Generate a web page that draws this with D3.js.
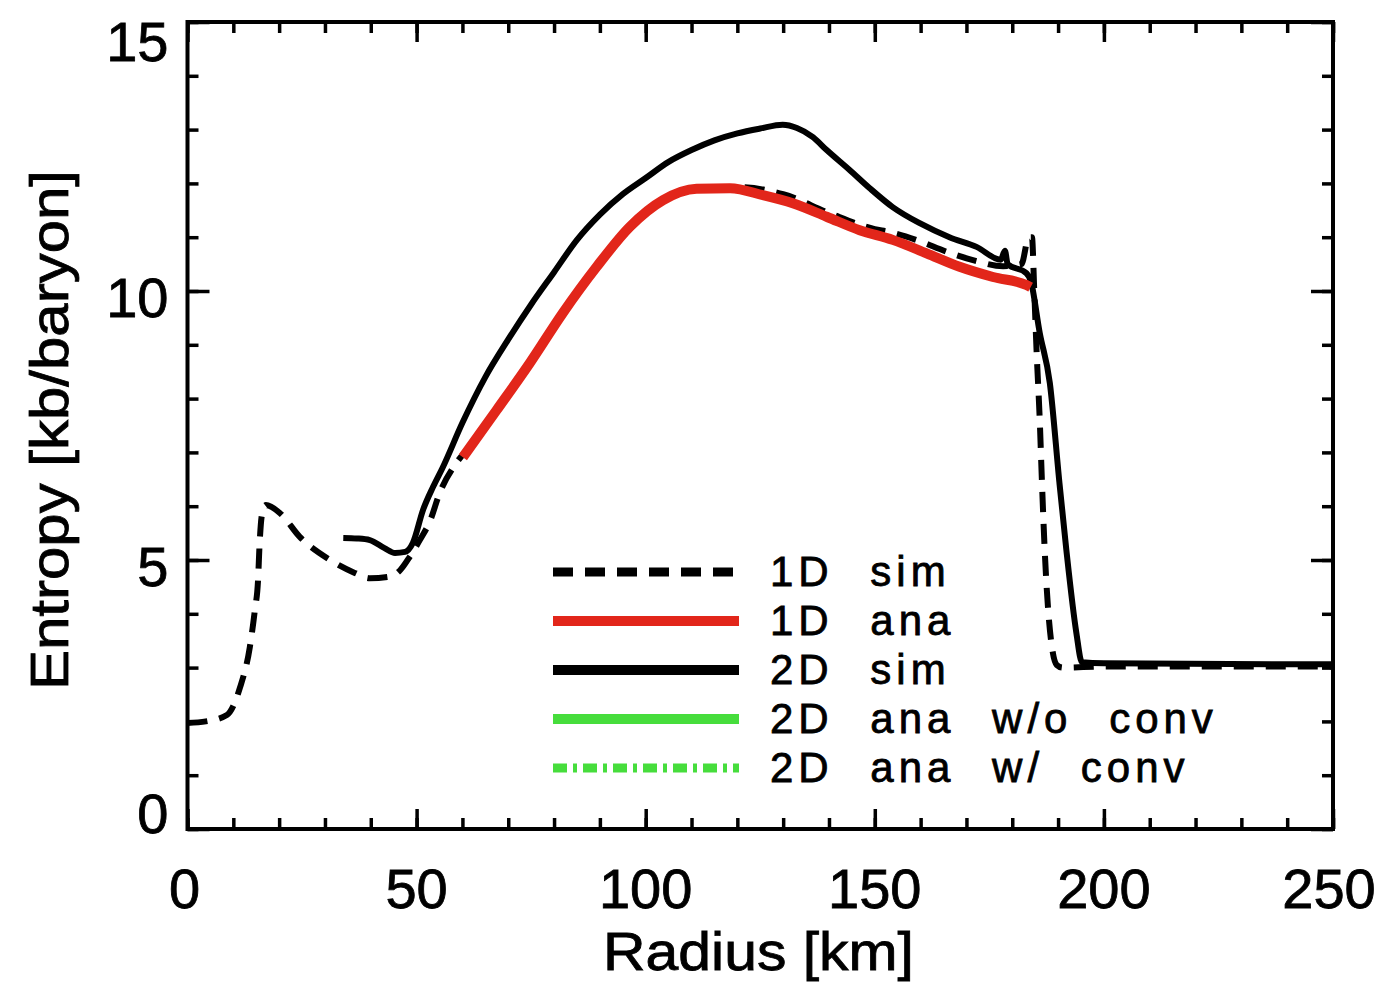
<!DOCTYPE html>
<html>
<head>
<meta charset="utf-8">
<script src="https://cdn.jsdelivr.net/npm/d3@7"></script>
<style>
  body { margin: 0; background: #fff; }
  svg text { font-family: "Liberation Sans", Arial, sans-serif; fill: #000; stroke: #000; stroke-width: 0.8px; }
</style>
</head>
<body>
<svg id="svg1" width="1385" height="985"></svg>
<script>
// ---- data ----
var xTicks = [0, 50, 100, 150, 200, 250];
var yTicks = [0, 5, 10, 15];

// 1D sim (dashed black): [radius km, entropy]
var sim1d = [[0,1.97],[4,2.0],[8.6,2.12],[11.5,2.64],[13.6,3.38],[14.7,4.07],[15.4,4.63],[15.7,5.24],
  [16.3,5.87],[17.1,6.02],[20.2,5.87],[24.5,5.43],[31.1,5.0],[36.5,4.76],[39.8,4.66],[44.2,4.69],
  [46.4,4.81],[48.5,5.06],[50.7,5.37],[53,5.74],[55,6.24],[58.4,6.77],[62,7.15],[70,8.1],[80,9.35],
  [90,10.55],[100,11.45],[110,11.88],[120,11.93],[130,11.8],[140,11.45],[150,11.15],[153,11.1],
  [159,10.95],[166,10.72],[172,10.56],[178,10.46],[182,10.5],[183.6,11.0],[184.3,11.0],[184.8,10.0],
  [185.3,8.9],[186,7.6],[186.5,6.4],[187.1,5.15],[188,3.9],[189.7,3.05],[191,3.0],[200,3.02],[250,3.02]];

// 1D ana (red)
var ana1d = [[60.1,6.91],[67.5,7.79],[74.7,8.66],[81.9,9.59],[89.3,10.45],[96.5,11.19],[103.8,11.69],
  [111.1,11.9],[118.4,11.91],[125.6,11.78],[132.1,11.63],[139.5,11.38],[146.7,11.13],[153.9,10.95],
  [161.3,10.7],[168.5,10.45],[175.8,10.26],[183.1,10.11],[184,10.07]];

// 2D sim (solid black)
var sim2d = [[34,5.41],[37,5.4],[39.8,5.37],[43,5.22],[45.3,5.13],[47.5,5.15],[49.2,5.32],[51.4,5.93],
  [53.6,6.36],[55.7,6.72],[60,7.55],[65,8.4],[70,9.1],[75,9.75],[80,10.35],[85,10.95],[90,11.42],
  [95,11.8],[100,12.1],[105,12.4],[110,12.62],[115,12.8],[120,12.93],[125,13.02],[129.9,13.09],
  [133,13.03],[136.5,12.86],[139.5,12.62],[144.5,12.25],[148.9,11.91],[153.9,11.56],[159.8,11.26],
  [166.3,11.0],[172.2,10.82],[177.5,10.58],[178.4,10.75],[179,10.5],[183.1,10.33],[184,10.2],
  [186,9.22],[188.2,8.29],[190.3,6.43],[191.8,5.19],[194,3.64],[195.2,3.1],[200,3.08],[250,3.06]];

var legendLabels = ["1D sim", "1D ana", "2D sim", "2D ana w/o conv", "2D ana w/ conv"];

// ---- layout ----
var svg = d3.select("#svg1"),
    margin = {top: 22, right: 52, bottom: 156, left: 187.5},
    width = +svg.attr("width") - margin.left - margin.right,
    height = +svg.attr("height") - margin.top - margin.bottom,
    g = svg.append("g").attr("transform", "translate(" + margin.left + "," + margin.top + ")");

var red = "#e2261a", green = "#46dd3c";

var x = d3.scaleLinear().domain([0, 250]).range([0, width]);
var y = d3.scaleLinear().domain([0, 15]).range([height, 0]);

// ticks, all pointing inward, on all four sides
function tickAxes(axisFn, scale, values, size, transform) {
  g.append("g")
    .attr("class", "ticks")
    .attr("transform", transform)
    .call(axisFn(scale).tickValues(values).tickSize(size).tickFormat(""))
    .call(function(a) { a.select(".domain").remove(); })
    .selectAll("line").attr("stroke", "#000").attr("stroke-width", 3.5);
}
var xMinor = d3.range(0, 251, 10), yMinor = d3.range(0, 15.01, 1);
tickAxes(d3.axisBottom, x, xMinor, -11, "translate(0," + height + ")");
tickAxes(d3.axisBottom, x, xTicks, -20, "translate(0," + height + ")");
tickAxes(d3.axisTop, x, xMinor, -11, "translate(0,0)");
tickAxes(d3.axisTop, x, xTicks, -20, "translate(0,0)");
tickAxes(d3.axisLeft, y, yMinor, -11, "translate(0,0)");
tickAxes(d3.axisLeft, y, yTicks, -22, "translate(0,0)");
tickAxes(d3.axisRight, y, yMinor, -11, "translate(" + width + ",0)");
tickAxes(d3.axisRight, y, yTicks, -22, "translate(" + width + ",0)");

// tick labels
g.selectAll(".xlab").data(xTicks).enter().append("text")
  .attr("class", "xlab")
  .attr("x", function(d) { return x(d) - (d === 0 ? 3 : 0) - (d === 250 ? 4 : 0); })
  .attr("y", height + 79)
  .attr("text-anchor", "middle")
  .attr("font-size", 56)
  .text(function(d) { return d; });

g.selectAll(".ylab").data(yTicks).enter().append("text")
  .attr("class", "ylab")
  .attr("x", -19)
  .attr("y", function(d) { return Math.max(19, Math.min(height - 16, y(d) + 6)) + 20; })
  .attr("text-anchor", "end")
  .attr("font-size", 56)
  .text(function(d) { return d; });

// axis titles
svg.append("text")
  .attr("x", 603).attr("y", 970)
  .attr("font-size", 53)
  .attr("textLength", 311).attr("lengthAdjust", "spacingAndGlyphs")
  .text("Radius [km]");

svg.append("text")
  .attr("transform", "translate(68,690) rotate(-90)")
  .attr("font-size", 53)
  .attr("textLength", 520).attr("lengthAdjust", "spacingAndGlyphs")
  .text("Entropy [kb/baryon]");

// curves
svg.append("defs").append("clipPath").attr("id", "clip")
  .append("rect").attr("width", width).attr("height", height);

var line = d3.line()
  .x(function(d) { return x(d[0]); })
  .y(function(d) { return y(d[1]); })
  .curve(d3.curveMonotoneX);

var plot = g.append("g").attr("clip-path", "url(#clip)");

plot.append("path").datum(sim2d)
  .attr("fill", "none").attr("stroke", "#000").attr("stroke-width", 6)
  .attr("stroke-linejoin", "round").attr("d", line);

plot.append("path").datum(sim1d)
  .attr("fill", "none").attr("stroke", "#000").attr("stroke-width", 6)
  .attr("stroke-dasharray", "20,12").attr("d", line);

plot.append("path").datum(ana1d)
  .attr("fill", "none").attr("stroke", red).attr("stroke-width", 10)
  .attr("stroke-linecap", "butt").attr("d", line);

// frame
g.append("rect")
  .attr("width", width).attr("height", height)
  .attr("fill", "none").attr("stroke", "#000").attr("stroke-width", 4);

// legend
var legendStyle = [
  {color: "#000", dash: "20,12", w: 9},
  {color: red, dash: null, w: 10},
  {color: "#000", dash: null, w: 10},
  {color: green, dash: null, w: 10},
  {color: green, dash: "14,6,4,6", w: 9}
];

var leg = svg.append("g").attr("transform", "translate(553,572)");
var rows = leg.selectAll(".leg").data(legendLabels).enter().append("g")
  .attr("class", "leg")
  .attr("transform", function(d, i) { return "translate(0," + i * 49 + ")"; });

rows.append("line")
  .attr("x1", 0).attr("x2", 186).attr("y1", 0).attr("y2", 0)
  .attr("stroke", function(d, i) { return legendStyle[i].color; })
  .attr("stroke-width", function(d, i) { return legendStyle[i].w; })
  .attr("stroke-dasharray", function(d, i) { return legendStyle[i].dash; });

rows.append("text")
  .attr("x", 217).attr("y", 14)
  .attr("font-size", 42)
  .attr("letter-spacing", 5)
  .attr("word-spacing", 20)
  .text(function(d) { return d; });
</script>
</body>
</html>
